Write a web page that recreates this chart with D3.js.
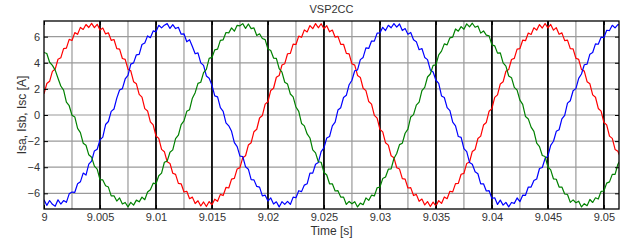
<!DOCTYPE html>
<html>
<head>
<meta charset="utf-8">
<script src="https://cdn.jsdelivr.net/npm/d3@7"></script>
<style>
  body { margin: 0; background: #fff; }
  svg { display: block; font-family: "Liberation Sans", Arial, sans-serif; }
</style>
</head>
<body>
<svg id="chart"></svg>
<script>
// sampled stator currents, one value every 0.25 ms from t = 9 s
const tStart = 9;
const tStep = 0.00025;
const xTicks = [9, 9.005, 9.01, 9.015, 9.02, 9.025, 9.03, 9.035, 9.04, 9.045, 9.05];
const yTicks = [-6, -4, -2, 0, 2, 4, 6];

const isa = [1.62, 2.41, 2.58, 3.34, 3.52, 4.27, 4.38, 5.08, 5.12, 5.79, 5.71, 6.31, 6.18, 6.71, 6.55, 6.93, 6.70, 7.02, 6.69, 6.95,
  6.52, 6.66, 6.21, 6.30, 5.72, 5.78, 5.08, 5.04, 4.33, 4.26, 3.51, 3.38, 2.55, 2.39, 1.58, 1.37, 0.49, 0.31, -0.52, -0.76,
  -1.61, -1.79, -2.63, -2.81, -3.58, -3.71, -4.46, -4.55, -5.24, -5.27, -5.90, -5.84, -6.41, -6.29, -6.78, -6.57, -6.97, -6.66, -7.01, -6.63,
  -6.88, -6.45, -6.61, -6.08, -6.17, -5.55, -5.59, -4.91, -4.86, -4.13, -4.03, -3.27, -3.12, -2.30, -2.12, -1.28, -1.09, -0.23, -0.04, 0.83,
  1.02, 1.88, 2.05, 2.89, 3.02, 3.83, 3.93, 4.69, 4.72, 5.43, 5.40, 6.04, 5.95, 6.52, 6.36, 6.85, 6.61, 7.00, 6.68, 6.99,
  6.60, 6.84, 6.37, 6.51, 5.96, 6.02, 5.41, 5.42, 4.72, 4.68, 3.92, 3.82, 3.03, 2.88, 2.05, 1.87, 1.03, 0.83, -0.03, -0.24,
  -1.10, -1.29, -2.13, -2.31, -3.12, -3.27, -4.04, -4.14, -4.87, -4.91, -5.59, -5.56, -6.17, -6.08, -6.61, -6.44, -6.89, -6.63, -7.01, -6.67,
  -6.97, -6.56, -6.77, -6.28, -6.41, -5.84, -5.89, -5.26, -5.24, -4.54, -4.47, -3.71, -3.60, -2.79, -2.64, -1.80, -1.62, -0.77, -0.57, 0.29,
  0.49, 1.35, 1.54, 2.38, 2.54, 3.35, 3.48, 4.25, 4.34, 5.05, 5.08, 5.73, 5.69, 6.28, 6.17, 6.68, 6.50, 6.93, 6.66, 7.01,
  6.67, 6.94, 6.50, 6.69, 6.18, 6.29, 5.70, 5.74, 5.08, 5.06, 4.35, 4.26, 3.48, 3.36, 2.55, 2.39, 1.54, 1.36, 0.50, 0.30,
  -0.57, -0.76, -1.62, -1.79, -2.64, -2.78, -3.30];

const isb = [-6.50, -6.92, -6.55, -6.84, -6.99, -6.50, -6.82, -6.55, -6.69, -6.04, -5.90, -5.92, -5.27, -5.12, -4.45, -4.60, -3.77, -3.53, -2.75, -2.62,
  -1.91, -1.70, -0.73, -0.50, 0.28, 0.46, 1.29, 1.91, 2.02, 2.76, 3.04, 3.90, 3.99, 4.61, 4.64, 5.40, 5.52, 6.06, 5.92, 6.44,
  6.37, 6.87, 6.67, 6.88, 7.00, 6.63, 6.92, 6.62, 6.72, 6.19, 6.22, 5.61, 5.77, 5.25, 4.69, 4.76, 3.99, 3.80, 2.99, 2.81,
  2.27, 1.46, 1.39, 0.56, 0.28, -0.60, -0.83, -1.25, -2.11, -2.42, -3.15, -3.18, -3.97, -4.15, -4.95, -4.97, -5.47, -5.52, -6.20, -6.14,
  -6.59, -6.35, -6.82, -6.65, -7.04, -6.64, -6.85, -6.62, -6.85, -6.29, -6.34, -5.80, -5.87, -5.37, -5.27, -4.45, -4.45, -3.77, -3.63, -2.80,
  -2.52, -1.76, -1.65, -0.83, -0.55, 0.38, 0.56, 1.34, 1.51, 2.32, 2.66, 3.39, 3.45, 4.24, 4.41, 5.14, 5.10, 5.67, 5.66, 6.27,
  6.29, 6.72, 6.47, 6.87, 6.68, 7.00, 6.73, 6.97, 6.47, 6.62, 6.19, 6.32, 5.76, 5.62, 5.00, 5.09, 4.41, 4.24, 3.45, 3.29,
  2.66, 2.42, 1.46, 1.34, 0.56, 0.33, -0.55, -0.83, -1.65, -1.71, -2.57, -2.80, -3.63, -3.77, -4.35, -4.50, -5.27, -5.27, -5.82, -5.80,
  -6.39, -6.34, -6.85, -6.52, -6.90, -6.69, -7.04, -6.70, -6.77, -6.35, -6.64, -6.14, -6.15, -5.52, -5.52, -5.02, -4.90, -4.10, -4.02, -3.33,
  -3.15, -2.32, -2.01, -1.25, -1.13, -0.30, -0.02, 0.91, 1.09, 1.86, 2.02, 2.81, 3.14, 3.85, 3.89, 4.66, 4.79, 5.45, 5.42, 5.96,
  5.92, 6.49, 6.47, 6.87, 6.67, 6.93, 6.85];

const isc = [4.79, 4.71, 4.04, 3.80, 3.44, 2.81, 2.22, 1.91, 0.99, 0.71, -0.02, -0.15, -1.03, -1.35, -2.16, -2.32, -3.05, -3.23, -3.92, -4.15,
  -4.95, -4.97, -5.42, -5.52, -6.20, -6.19, -6.59, -6.35, -6.82, -6.70, -7.04, -6.69, -6.90, -6.52, -6.65, -6.29, -6.49, -5.90, -5.72, -5.22,
  -5.27, -4.65, -4.45, -3.62, -3.53, -2.85, -2.67, -1.81, -1.55, -0.73, -0.45, 0.28, 0.41, 1.29, 1.71, 2.42, 2.51, 3.24, 3.50, 4.34,
  4.41, 4.99, 5.05, 5.72, 5.76, 6.32, 6.29, 6.67, 6.42, 6.87, 6.83, 7.00, 6.63, 6.97, 6.62, 6.67, 6.09, 6.22, 5.86, 5.77,
  5.05, 4.94, 4.36, 4.34, 3.55, 3.29, 2.51, 2.37, 1.61, 1.39, 0.61, 0.28, -0.65, -0.83, -1.45, -1.76, -2.67, -2.90, -3.58, -3.62,
  -4.40, -4.60, -5.27, -5.27, -5.82, -5.80, -6.29, -6.29, -6.85, -6.62, -6.80, -6.64, -7.04, -6.75, -6.87, -6.35, -6.54, -6.14, -6.20, -5.57,
  -5.52, -4.87, -4.75, -4.15, -4.12, -3.33, -2.95, -2.27, -2.16, -1.40, -1.08, -0.15, 0.03, 0.76, 0.99, 1.86, 2.12, 2.91, 3.14, 3.80,
  3.84, 4.61, 4.89, 5.45, 5.37, 5.91, 5.97, 6.59, 6.42, 6.77, 6.57, 6.98, 6.75, 7.03, 6.72, 6.82, 6.27, 6.44, 6.12, 6.06,
  5.37, 5.30, 4.74, 4.76, 3.99, 3.75, 2.99, 2.86, 2.12, 1.91, 1.14, 0.81, -0.12, -0.30, -0.93, -1.25, -2.16, -2.42, -3.10, -3.18,
  -3.97, -4.20, -4.90, -4.92, -5.52, -5.52, -6.05, -6.09, -6.69, -6.50, -6.72, -6.60, -7.04, -6.79, -6.95, -6.47, -6.70, -6.34, -6.44, -5.85,
  -5.82, -5.22, -5.12, -4.55, -4.55, -3.77, -3.43];

const series = [
  { name: "Isa", values: isa, color: "#ff0000" },
  { name: "Isb", values: isb, color: "#0000ff" },
  { name: "Isc", values: isc, color: "#008000" }
];

const width = 628, height = 242;
const margin = { top: 21, right: 9, bottom: 33, left: 44 };
const iw = width - margin.left - margin.right;
const ih = height - margin.top - margin.bottom;

const svg = d3.select("#chart").attr("width", width).attr("height", height);
const g = svg.append("g").attr("transform", `translate(${margin.left},${margin.top})`);

const x = d3.scaleLinear().domain([9, 9.05135]).range([0, iw]);
const y = d3.scaleLinear().domain([-7.2, 7.2]).range([ih, 0]);

svg.append("defs").append("clipPath").attr("id", "clip")
  .append("rect").attr("width", iw).attr("height", ih);

// grid
const xGrid = d3.range(9.0025, 9.0513, 0.0025);
g.append("g").selectAll("line").data(xGrid).join("line")
  .attr("x1", d => x(d)).attr("x2", d => x(d)).attr("y1", 0).attr("y2", ih)
  .attr("stroke", "#9a9a9a").attr("stroke-width", 1.2);
g.append("g").selectAll("line").data(yTicks).join("line")
  .attr("x1", 0).attr("x2", iw).attr("y1", d => y(d)).attr("y2", d => y(d))
  .attr("stroke", "#9a9a9a").attr("stroke-width", 1.2);

// black markers every 5 ms
g.append("g").selectAll("line").data(xTicks.slice(1)).join("line")
  .attr("x1", d => x(d)).attr("x2", d => x(d)).attr("y1", 0).attr("y2", ih)
  .attr("stroke", "#000").attr("stroke-width", 1.7);

const line = d3.line()
  .x((d, i) => x(tStart + i * tStep))
  .y(d => y(d));

g.append("g").attr("clip-path", "url(#clip)")
  .selectAll("path").data(series).join("path")
  .attr("fill", "none")
  .attr("stroke", d => d.color)
  .attr("stroke-width", 1.2)
  .attr("stroke-linejoin", "round")
  .attr("d", d => line(d.values));

// axes, ticks pointing inward
const styleAxis = sel => {
  sel.select(".domain").remove();
  sel.selectAll(".tick line").attr("stroke", "#000");
  sel.selectAll("text").attr("fill", "#333").attr("font-size", 11)
    .attr("font-family", "'Liberation Sans', Arial, sans-serif");
};

g.append("g").attr("transform", `translate(0,${ih})`)
  .call(d3.axisBottom(x).tickValues(xTicks).tickFormat(d3.format("")).tickSize(-4).tickPadding(4))
  .call(styleAxis);
g.append("g")
  .call(d3.axisTop(x).tickValues(xTicks).tickFormat("").tickSize(-4))
  .call(styleAxis);
g.append("g")
  .call(d3.axisLeft(y).tickValues(yTicks).tickSize(-4).tickPadding(4))
  .call(styleAxis);
g.append("g").attr("transform", `translate(${iw},0)`)
  .call(d3.axisRight(y).tickValues(yTicks).tickFormat("").tickSize(-4))
  .call(styleAxis);

g.append("rect").attr("width", iw).attr("height", ih)
  .attr("fill", "none").attr("stroke", "#000").attr("stroke-width", 1.3);

svg.append("text")
  .attr("x", margin.left + iw / 2).attr("y", 13)
  .attr("text-anchor", "middle").attr("font-size", 11).attr("fill", "#333")
  .text("VSP2CC");

svg.append("text")
  .attr("x", margin.left + iw / 2).attr("y", 235)
  .attr("text-anchor", "middle").attr("font-size", 12).attr("fill", "#333")
  .text("Time [s]");

svg.append("text")
  .attr("transform", `translate(26,${margin.top + ih / 2}) rotate(-90)`)
  .attr("text-anchor", "middle").attr("font-size", 12).attr("fill", "#333")
  .text("Isa, Isb, Isc [A]");
</script>
</body>
</html>
